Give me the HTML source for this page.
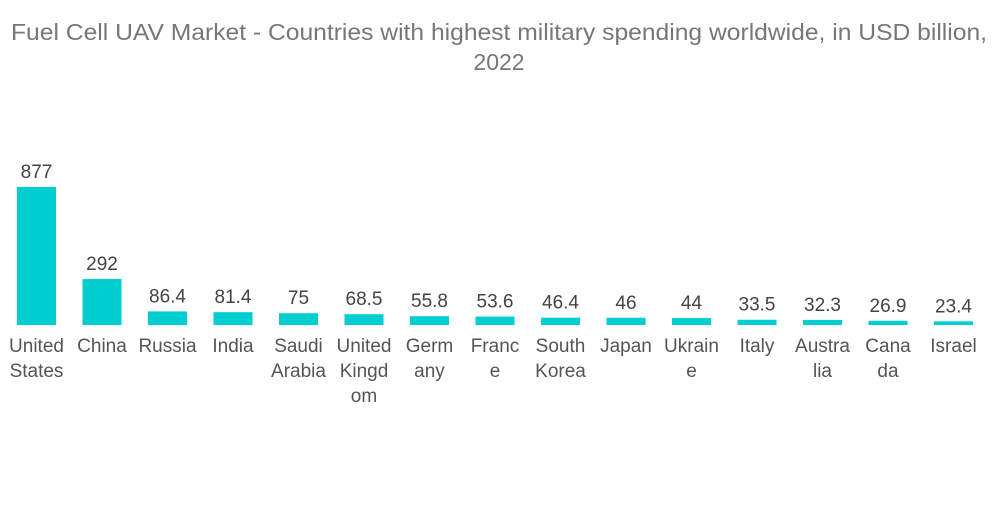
<!DOCTYPE html>
<html><head><meta charset="utf-8"><style>
html,body{margin:0;padding:0;background:#fff;}
body{width:1000px;height:504px;overflow:hidden;font-family:"Liberation Sans",sans-serif;}
</style></head><body>
<svg id="chart" width="1000" height="504">
<text x="499" y="40" text-anchor="middle" font-size="23" fill="#777" textLength="976" lengthAdjust="spacingAndGlyphs">Fuel Cell UAV Market - Countries with highest military spending worldwide, in USD billion,</text>
<text x="499" y="70" text-anchor="middle" font-size="23" fill="#777">2022</text>
</svg>
<script>
const categories=[["United","States"],["China"],["Russia"],["India"],["Saudi","Arabia"],["United","Kingd","om"],["Germ","any"],["Franc","e"],["South","Korea"],["Japan"],["Ukrain","e"],["Italy"],["Austra","lia"],["Cana","da"],["Israel"]];
const values=[877,292,86.4,81.4,75,68.5,55.8,53.6,46.4,46,44,33.5,32.3,26.9,23.4];
const valueLabels=["877","292","86.4","81.4","75","68.5","55.8","53.6","46.4","46","44","33.5","32.3","26.9","23.4"];
const svg=document.getElementById('chart');
const NS='http://www.w3.org/2000/svg';
const base=325, scale=138/877, x0=36.5, step=65.5, bw=39;
const xPos=i=>x0+i*step;
const yPos=v=>base-v*scale;
values.forEach((v,i)=>{
  const r=document.createElementNS(NS,'rect');
  r.setAttribute('x',xPos(i)-bw/2);r.setAttribute('y',yPos(v));
  r.setAttribute('width',bw);r.setAttribute('height',base-yPos(v));
  r.setAttribute('fill','#00CED1');
  
  
  svg.appendChild(r);
  const t=document.createElementNS(NS,'text');
  t.setAttribute('x',xPos(i));t.setAttribute('y',yPos(v)-9);
  t.setAttribute('text-anchor','middle');t.setAttribute('font-size','19');t.setAttribute('fill','#444');
  t.textContent=valueLabels[i];
  
  
  svg.appendChild(t);
  categories[i].forEach((line,j)=>{
    const c=document.createElementNS(NS,'text');
    c.setAttribute('x',xPos(i));c.setAttribute('y',352+j*25);
    c.setAttribute('text-anchor','middle');c.setAttribute('font-size','19');c.setAttribute('fill','#555');
    c.textContent=line;
    
    
    svg.appendChild(c);
  });
});
</script>
</body></html>
